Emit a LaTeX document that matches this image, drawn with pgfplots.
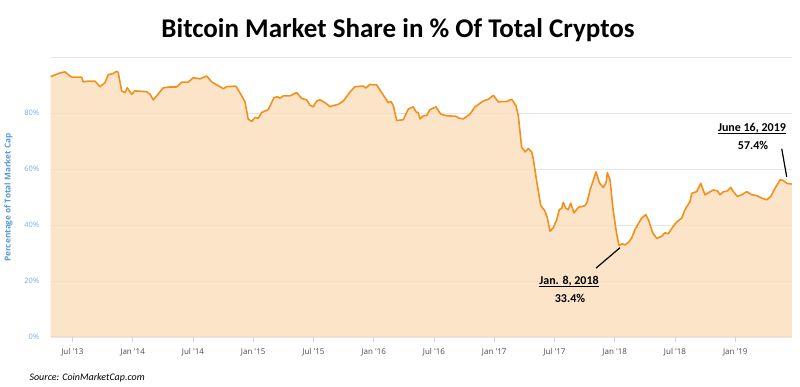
\documentclass[border=0pt]{standalone}
\usepackage{fontspec}
\setmainfont{Carlito}
\newfontfamily\tickfont{Open Sans}
\usepackage{pgfplots}
\usepackage{pgfplotstable}
\pgfplotsset{compat=1.18}
\definecolor{lineor}{HTML}{F2901E}
\definecolor{fillor}{HTML}{FBDDBA}
\definecolor{gridc}{HTML}{E6E6E6}
\definecolor{axc}{HTML}{CCD6EB}
\definecolor{ytc}{HTML}{7EA8E6}
\definecolor{ylc}{HTML}{5B9BD5}
\definecolor{xtc}{HTML}{4A4A4A}
\pgfplotstableread{
x y
2013.320 93.0
2013.397 94.3
2013.438 94.7
2013.480 93.2
2013.496 92.8
2013.577 92.8
2013.590 91.1
2013.632 91.4
2013.687 91.4
2013.729 89.4
2013.770 90.8
2013.798 93.7
2013.839 94.1
2013.867 94.9
2013.880 94.5
2013.909 87.9
2013.936 87.3
2013.955 89.0
2013.992 86.7
2014.019 87.9
2014.116 87.6
2014.144 86.7
2014.171 84.7
2014.199 86.1
2014.254 89.0
2014.310 89.3
2014.365 89.3
2014.407 91.0
2014.461 91.0
2014.503 92.6
2014.559 92.2
2014.614 93.2
2014.656 91.1
2014.752 88.7
2014.780 89.4
2014.857 89.6
2014.905 86.1
2014.932 84.0
2014.959 77.8
2014.988 77.0
2015.015 78.4
2015.042 78.1
2015.071 80.2
2015.125 81.2
2015.173 85.5
2015.200 85.8
2015.222 85.3
2015.250 86.1
2015.305 86.1
2015.361 87.3
2015.402 85.2
2015.444 84.7
2015.471 82.8
2015.499 82.2
2015.527 84.3
2015.554 84.7
2015.596 83.7
2015.637 82.3
2015.706 83.1
2015.748 84.3
2015.803 87.5
2015.845 89.4
2015.914 89.6
2015.934 88.9
2015.969 90.2
2016.025 90.0
2016.066 87.3
2016.094 85.5
2016.121 83.7
2016.144 84.1
2016.163 82.6
2016.191 77.3
2016.246 77.6
2016.287 81.4
2016.329 82.2
2016.351 80.4
2016.370 80.1
2016.384 77.9
2016.412 79.0
2016.440 79.1
2016.467 81.2
2016.517 82.2
2016.556 79.6
2016.606 79.0
2016.689 78.8
2016.702 78.2
2016.744 77.9
2016.799 79.6
2016.841 82.2
2016.910 84.3
2016.951 84.9
2016.993 86.3
2017.034 84.0
2017.104 84.1
2017.145 84.9
2017.181 82.6
2017.200 79.0
2017.228 67.8
2017.256 66.1
2017.283 67.3
2017.311 66.1
2017.324 63.7
2017.353 55.5
2017.386 47.0
2017.422 44.9
2017.441 42.5
2017.463 37.8
2017.490 39.0
2017.519 41.9
2017.540 45.5
2017.560 46.0
2017.573 48.1
2017.593 46.0
2017.615 45.5
2017.635 47.8
2017.662 44.3
2017.698 46.3
2017.754 46.9
2017.773 48.4
2017.795 52.5
2017.814 54.9
2017.845 59.0
2017.872 55.1
2017.905 53.4
2017.928 55.1
2017.939 58.7
2017.961 56.1
2017.988 44.9
2018.017 36.6
2018.036 32.7
2018.063 33.3
2018.085 32.9
2018.113 33.7
2018.141 35.4
2018.168 38.4
2018.224 42.5
2018.257 43.7
2018.279 41.9
2018.315 37.2
2018.349 35.2
2018.390 36.0
2018.417 37.2
2018.445 36.9
2018.486 39.6
2018.515 41.1
2018.556 42.5
2018.583 45.5
2018.625 48.4
2018.639 51.3
2018.680 51.9
2018.714 54.9
2018.749 50.8
2018.785 51.7
2018.818 52.5
2018.852 52.2
2018.874 50.8
2018.901 51.9
2018.929 52.0
2018.963 53.4
2018.984 52.0
2019.017 50.2
2019.054 50.8
2019.095 51.9
2019.137 50.8
2019.178 50.5
2019.220 49.6
2019.261 49.0
2019.295 50.2
2019.330 53.1
2019.372 56.1
2019.394 56.0
2019.427 54.9
2019.469 54.6
}\btcshare
\begin{document}
\begin{tikzpicture}[x=1pt,y=1pt]
\path[use as bounding box] (0,0) rectangle (800,387);
\node[font=\bfseries\fontsize{27}{29}\selectfont] at (398,357) {Bitcoin Market Share in \% Of Total Cryptos};
\node[rotate=90, font=\tickfont\bfseries\fontsize{8.2}{9}\selectfont, text=ylc] at (8.5,189.5) {Percentage of Total Market Cap};
\node[anchor=west, font=\itshape\fontsize{10}{12}\selectfont] at (26,9) {Source: CoinMarketCap.com};
\begin{axis}[
  at={(50.7pt,50pt)}, anchor=south west, scale only axis,
  width=741.3pt, height=280pt,
  xmin=2013.32, xmax=2019.471, ymin=0, ymax=100,
  clip=false,
  axis lines*=left,
  x axis line style={draw=axc, line width=1pt},
  y axis line style={draw=none},
  xtick={2013.5,2014,2014.5,2015,2015.5,2016,2016.5,2017,2017.5,2018,2018.5,2019},
  xticklabels={Jul '13,Jan '14,Jul '14,Jan '15,Jul '15,Jan '16,Jul '16,Jan '17,Jul '17,Jan '18,Jul '18,Jan '19},
  x tick label style={font=\tickfont\fontsize{8}{9}\selectfont, text=xtc, yshift=-3pt},
  ytick={0,20,40,60,80,100},
  yticklabels={0\%,20\%,40\%,60\%,80\%,{}},
  y tick label style={font=\tickfont\fontsize{7.5}{9}\selectfont, text=ytc, xshift=-3pt},
  ymajorgrids, grid style={draw=gridc, line width=0.8pt},
  major y tick style={draw=none},
  major x tick style={draw=axc, line width=0.8pt},
  tick align=outside, major tick length=5pt,
  /pgf/number format/assume math mode=true,
]
\addplot[draw=none, fill=fillor, fill opacity=0.8] table[x=x,y=y] {\btcshare} \closedcycle;
\addplot[draw=lineor, line width=1.6pt, line join=round] table[x=x,y=y] {\btcshare};
\node[font=\bfseries\fontsize{12}{14}\selectfont, inner sep=0pt] (a1) at (axis cs:2019.139,74.6) {June 16, 2019};
\draw[line width=1.1pt] ([yshift=-2.5pt]a1.base west) -- ([yshift=-2.5pt]a1.base east);
\node[font=\bfseries\fontsize{12}{14}\selectfont] at (axis cs:2019.148,68.4) {57.4\%};
\draw[black, line width=1.2pt] (axis cs:2019.386,67.2) -- (axis cs:2019.427,57.2);
\node[font=\bfseries\fontsize{12}{14}\selectfont, inner sep=0pt] (a2) at (axis cs:2017.621,20.1) {Jan. 8, 2018};
\draw[line width=1.1pt] ([yshift=-2.5pt]a2.base west) -- ([yshift=-2.5pt]a2.base east);
\node[font=\bfseries\fontsize{12}{14}\selectfont] at (axis cs:2017.629,13.9) {33.4\%};
\draw[black, line width=1.2pt] (axis cs:2017.845,24.6) -- (axis cs:2018.044,31.9);
\end{axis}
\end{tikzpicture}
\end{document}
